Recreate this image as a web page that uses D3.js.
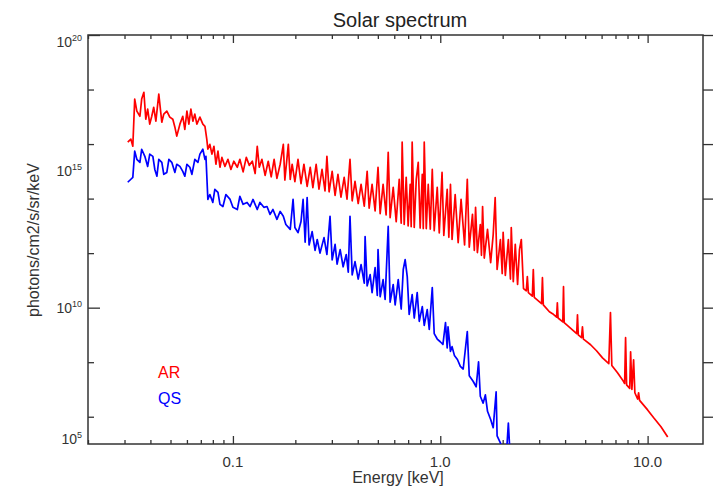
<!DOCTYPE html>
<html>
<head>
<meta charset="utf-8">
<script src="https://cdn.jsdelivr.net/npm/d3@7"></script>
<style>
  body { margin: 0; background: #fff; }
  text { font-family: "Liberation Sans", Arial, sans-serif; fill: #333; }
</style>
</head>
<body>
<script>

/* [energy in keV, log10 of flux in photons/cm2/s/sr/keV] */
var arSpectrum = [
  [0.0311,16.07],[0.0322,16.18],[0.0329,15.92],[0.0336,17.65],[0.0344,17.21],[0.0356,17.02],[0.0363,17.65],[0.0372,17.90],[0.0380,16.91],[0.0388,17.28],
  [0.0397,16.73],[0.0406,17.02],[0.0415,17.35],[0.0425,16.84],[0.0439,17.83],[0.0454,16.80],[0.0464,17.10],[0.0480,17.21],[0.0496,16.99],[0.0513,16.91],
  [0.0525,16.62],[0.0536,16.29],[0.0555,16.73],[0.0573,17.02],[0.0586,16.54],[0.0600,17.21],[0.0613,16.73],[0.0627,17.28],[0.0641,16.84],[0.0655,17.10],
  [0.0670,16.73],[0.0693,16.99],[0.0716,16.73],[0.0733,16.65],[0.0748,16.18],[0.0757,15.81],[0.0774,15.99],[0.0792,15.63],[0.0810,15.92],[0.0828,15.26],
  [0.0847,15.74],[0.0866,15.15],[0.0885,15.51],[0.0915,15.18],[0.0946,15.44],[0.0978,15.07],[0.101,15.37],[0.105,15.15],[0.108,15.44],[0.112,14.98],
  [0.116,15.51],[0.120,15.22],[0.124,15.37],[0.128,14.92],[0.131,15.92],[0.134,15.15],[0.138,15.44],[0.143,14.85],[0.148,15.37],[0.153,14.80],
  [0.158,15.44],[0.163,14.74],[0.169,15.26],[0.175,15.99],[0.178,14.68],[0.185,15.99],[0.189,14.70],[0.193,15.26],[0.199,14.62],[0.206,15.44],
  [0.213,14.55],[0.220,15.26],[0.228,14.45],[0.236,15.15],[0.243,14.40],[0.252,15.26],[0.260,14.35],[0.269,15.07],[0.278,14.28],[0.284,15.55],
  [0.291,14.25],[0.301,15.00],[0.311,14.12],[0.321,14.89],[0.332,14.05],[0.344,14.78],[0.355,13.98],[0.367,15.44],[0.376,13.92],[0.388,14.63],
  [0.402,13.82],[0.415,14.52],[0.430,13.72],[0.444,15.00],[0.454,13.65],[0.469,14.52],[0.485,13.55],[0.501,15.15],[0.513,13.45],[0.530,14.52],
  [0.548,13.40],[0.561,15.70],[0.573,13.30],[0.593,14.41],[0.613,13.15],[0.634,14.71],[0.648,13.10],[0.655,16.07],[0.670,13.05],[0.685,14.78],
  [0.700,13.00],[0.716,14.52],[0.724,12.97],[0.732,16.07],[0.749,12.94],[0.766,14.71],[0.783,15.33],[0.800,12.92],[0.819,14.89],[0.828,12.90],
  [0.837,16.07],[0.856,12.90],[0.875,14.52],[0.895,12.88],[0.915,15.07],[0.935,12.82],[0.967,14.41],[0.989,12.74],[1.02,14.96],[1.04,12.65],
  [1.08,14.34],[1.10,12.58],[1.12,14.52],[1.14,12.50],[1.18,14.15],[1.22,12.38],[1.26,13.97],[1.31,12.30],[1.35,14.71],[1.38,12.22],
  [1.43,13.42],[1.46,12.10],[1.48,13.68],[1.51,12.02],[1.56,13.05],[1.58,11.92],[1.60,13.71],[1.63,11.82],[1.69,12.87],[1.75,11.65],
  [1.80,12.68],[1.84,14.04],[1.88,11.40],[1.95,12.50],[1.99,11.25],[2.01,12.76],[2.06,11.18],[2.13,12.50],[2.18,11.05],[2.20,12.94],
  [2.25,10.95],[2.30,12.32],[2.36,10.85],[2.41,12.13],[2.46,12.50],[2.52,10.70],[2.60,10.62],[2.63,11.14],[2.66,10.55],[2.78,10.42],
  [2.81,11.40],[2.84,10.38],[3.08,10.15],[3.11,11.10],[3.14,10.10],[3.36,9.85],[3.48,9.78],[3.64,9.65],[3.67,10.18],[3.70,9.62],
  [3.90,9.48],[3.93,10.77],[3.96,9.45],[4.55,9.05],[4.59,9.74],[4.63,9.00],[4.80,8.90],[4.85,9.30],[4.90,8.85],[4.96,8.82],
  [5.31,8.64],[5.67,8.42],[6.06,8.16],[6.50,7.95],[6.62,9.82],[6.72,7.88],[7.16,7.61],[7.57,7.35],[7.75,7.22],[7.83,8.90],
  [7.92,7.17],[8.20,7.04],[8.28,8.38],[8.40,7.00],[8.56,8.09],[8.68,6.88],[8.95,6.65],[9.05,6.88],[9.15,6.60],[10.0,6.25],
  [10.7,5.96],[11.6,5.63],[12.5,5.26]
]

var qsSpectrum = [
  [0.0311,14.60],[0.0322,14.71],[0.0329,14.78],[0.0336,15.74],[0.0344,15.44],[0.0356,15.33],[0.0363,15.81],[0.0376,15.55],[0.0388,15.18],[0.0397,15.63],
  [0.0411,15.55],[0.0420,15.07],[0.0430,14.82],[0.0439,15.44],[0.0454,15.33],[0.0464,14.89],[0.0480,14.96],[0.0491,15.44],[0.0507,15.33],[0.0525,14.96],
  [0.0536,15.26],[0.0555,15.18],[0.0573,15.00],[0.0586,14.82],[0.0600,15.26],[0.0620,15.15],[0.0634,14.89],[0.0655,15.44],[0.0678,15.33],[0.0693,15.63],
  [0.0716,15.81],[0.0733,15.44],[0.0741,15.55],[0.0757,13.97],[0.0774,14.15],[0.0800,13.86],[0.0818,14.34],[0.0847,14.23],[0.0866,13.79],[0.0895,13.71],
  [0.0925,14.15],[0.0969,13.97],[0.100,13.68],[0.105,13.60],[0.108,14.08],[0.112,13.79],[0.117,13.86],[0.121,13.71],[0.125,13.97],[0.131,13.60],
  [0.135,13.86],[0.141,13.68],[0.146,13.71],[0.151,13.42],[0.156,13.60],[0.163,13.24],[0.169,13.53],[0.175,13.35],[0.180,13.05],[0.189,12.87],
  [0.195,13.97],[0.199,12.94],[0.206,12.75],[0.213,13.16],[0.218,13.97],[0.223,12.40],[0.228,14.04],[0.233,12.30],[0.241,12.79],[0.249,12.10],
  [0.255,12.50],[0.263,12.00],[0.275,12.57],[0.284,11.95],[0.294,13.35],[0.301,11.75],[0.311,12.32],[0.318,11.60],[0.329,12.13],[0.340,11.50],
  [0.352,11.95],[0.360,11.30],[0.367,13.35],[0.376,11.20],[0.388,11.69],[0.402,11.05],[0.415,11.58],[0.430,10.90],[0.434,12.61],[0.444,10.80],
  [0.459,11.21],[0.469,10.55],[0.485,11.47],[0.497,10.45],[0.501,12.13],[0.513,10.40],[0.530,11.03],[0.542,10.30],[0.561,12.98],[0.573,10.20],
  [0.593,10.85],[0.606,10.10],[0.627,11.03],[0.648,9.95],[0.663,11.40],[0.677,11.76],[0.693,11.14],[0.708,9.75],[0.732,10.48],[0.749,9.62],
  [0.774,10.55],[0.792,9.50],[0.819,10.04],[0.837,9.35],[0.865,9.93],[0.885,9.20],[0.915,10.74],[0.935,9.05],[0.967,8.85],[1.00,8.75],
  [1.03,8.65],[1.06,9.45],[1.08,8.52],[1.09,9.30],[1.12,8.40],[1.14,8.57],[1.17,8.25],[1.21,8.10],[1.25,7.85],[1.29,7.75],
  [1.35,9.12],[1.38,7.50],[1.44,7.30],[1.49,7.10],[1.53,8.01],[1.56,6.75],[1.61,6.50],[1.65,6.80],[1.69,6.20],[1.75,5.90],
  [1.80,5.60],[1.86,6.91],[1.88,5.30],[1.95,5.04],[2.01,4.71],[2.08,4.49],[2.13,5.77],[2.18,4.34],[2.30,4.04]
]

var xMajor = [0.1, 1, 10]
var xLabels = ["0.1", "1.0", "10.0"]
var yMajorExp = [5, 10, 15, 20]

draw()

function draw() {

  var width = 713, height = 489
  var mLeft = 88, mRight = 703, mTop = 35, mBottom = 444

  var x = d3.scaleLog().domain([0.02, 18.5]).range([mLeft, mRight])
  var y = d3.scaleLog().domain([1e5, 1e20]).range([mBottom, mTop])

  var svg = d3.select("body").append("svg")
    .attr("width", width)
    .attr("height", height)

  svg.append("defs").append("clipPath").attr("id", "plotclip")
    .append("rect")
    .attr("x", mLeft).attr("y", mTop)
    .attr("width", mRight - mLeft).attr("height", mBottom - mTop)

  function isMajorX(d) { return xMajor.some(function(m) { return Math.abs(m - d) / m < 1e-6 }) }
  function isMajorY(d) { return Math.round(Math.log10(d)) % 5 == 0 }

  // x axes, ticks pointing inside
  var xt = x.ticks()
  var bottomAxis = svg.append("g").attr("transform", "translate(0," + mBottom + ")")
    .call(d3.axisBottom(x).tickValues(xt).tickSize(-4).tickFormat(""))
  bottomAxis.selectAll(".tick line").attr("y2", function(d) { return isMajorX(d) ? -8 : -4 })

  var topAxis = svg.append("g").attr("transform", "translate(0," + mTop + ")")
    .call(d3.axisTop(x).tickValues(xt).tickSize(-4).tickFormat(""))
  topAxis.selectAll(".tick line").attr("y2", function(d) { return isMajorX(d) ? 8 : 4 })

  // y axes
  var yt = y.ticks()
  var leftAxis = svg.append("g").attr("transform", "translate(" + mLeft + ",0)")
    .call(d3.axisLeft(y).tickValues(yt).tickSize(-6).tickFormat(""))
  leftAxis.selectAll(".tick line").attr("x2", function(d) { return isMajorY(d) ? 12 : 6 })

  svg.append("g").attr("transform", "translate(" + mRight + ",0)")
    .call(d3.axisRight(y).tickValues(yt).tickSize(10).tickFormat(""))

  svg.selectAll(".domain").remove()
  svg.selectAll(".tick line").attr("stroke", "#333").attr("stroke-width", 1.3)

  // frame
  svg.append("rect")
    .attr("x", mLeft).attr("y", mTop)
    .attr("width", mRight - mLeft).attr("height", mBottom - mTop)
    .attr("fill", "none").attr("stroke", "#333").attr("stroke-width", 1.5)

  // tick labels
  svg.selectAll(".xlab").data(xMajor).enter().append("text")
    .attr("class", "xlab")
    .attr("x", function(d) { return x(d) })
    .attr("y", 467)
    .attr("text-anchor", "middle")
    .style("font-size", "15px")
    .text(function(d, i) { return xLabels[i] })

  var ylab = svg.selectAll(".ylab").data(yMajorExp).enter().append("text")
    .attr("class", "ylab")
    .attr("x", 82)
    .attr("y", function(d) { return Math.min(Math.max(y(Math.pow(10, d)) + 5, 47), 444) })
    .attr("text-anchor", "end")
    .style("font-size", "14px")
  ylab.append("tspan").text("10")
  ylab.append("tspan").attr("dy", -6).style("font-size", "9px").text(function(d) { return d })

  // titles
  svg.append("text")
    .attr("x", 400).attr("y", 27)
    .attr("text-anchor", "middle")
    .style("font-size", "20px").style("fill", "#222")
    .text("Solar spectrum")

  svg.append("text")
    .attr("x", 398).attr("y", 483)
    .attr("text-anchor", "middle")
    .style("font-size", "16px")
    .text("Energy [keV]")

  svg.append("text")
    .attr("transform", "translate(39,240) rotate(-90)")
    .attr("text-anchor", "middle")
    .style("font-size", "16px")
    .text("photons/cm2/s/sr/keV")

  // spectra
  var line = d3.line()
    .x(function(d) { return x(d[0]) })
    .y(function(d) { return y(Math.pow(10, d[1])) })

  var plot = svg.append("g").attr("clip-path", "url(#plotclip)")

  plot.append("path")
    .datum(arSpectrum)
    .attr("d", line)
    .attr("fill", "none").attr("stroke", "#ff0000").attr("stroke-width", 1.7)
    .attr("stroke-linejoin", "round")

  plot.append("path")
    .datum(qsSpectrum)
    .attr("d", line)
    .attr("fill", "none").attr("stroke", "#0000ff").attr("stroke-width", 1.7)
    .attr("stroke-linejoin", "round")

  // legend
  svg.append("text").attr("x", 158).attr("y", 378)
    .style("font-size", "16px").style("fill", "#ff0000").text("AR")
  svg.append("text").attr("x", 158).attr("y", 404)
    .style("font-size", "16px").style("fill", "#0000ff").text("QS")
}

</script>
</body>
</html>
